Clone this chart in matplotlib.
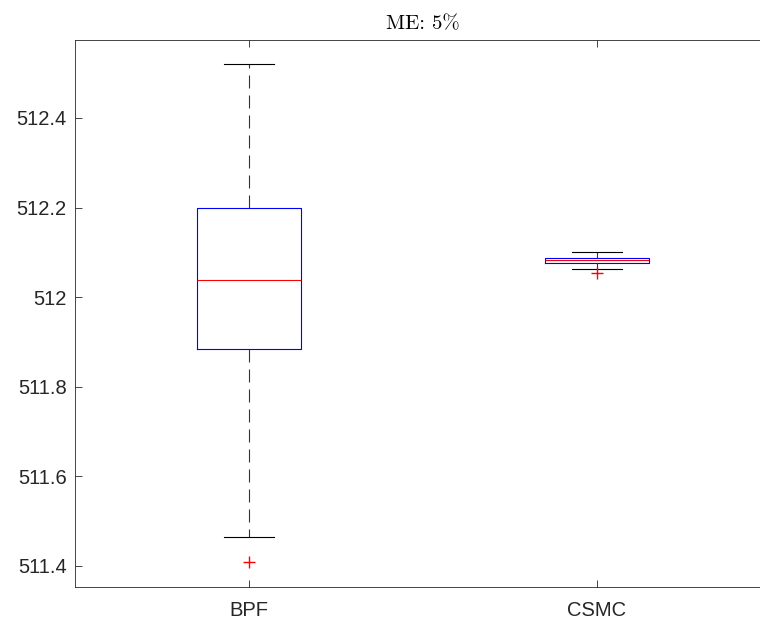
import matplotlib
matplotlib.use("Agg")
import matplotlib.pyplot as plt
from matplotlib.ticker import FuncFormatter

plt.rcParams["font.family"] = ["Liberation Sans", "DejaVu Sans"]

labels = ["BPF", "CSMC"]
whislo = [511.465, 512.062]
q1 = [511.884, 512.076]
med = [512.038, 512.082]
q3 = [512.200, 512.088]
whishi = [512.521, 512.101]
fliers = [[511.409], [512.053]]

stats = []
for i in range(len(labels)):
    stats.append({
        "label": labels[i],
        "whislo": whislo[i],
        "q1": q1[i],
        "med": med[i],
        "q3": q3[i],
        "whishi": whishi[i],
        "fliers": fliers[i],
    })

fig = plt.figure(figsize=(7.6, 6.24), dpi=100)
ax = fig.add_axes([75 / 760, 37 / 624, 696 / 760, 547 / 624])

ax.bxp(
    stats,
    positions=[1, 2],
    widths=0.3,
    boxprops=dict(color="blue", linewidth=0.8),
    medianprops=dict(color="red", linewidth=0.8),
    whiskerprops=dict(color="0.2", linestyle=(0, (11.7, 6.3)), linewidth=0.8),
    capprops=dict(color="black", linewidth=0.8),
    capwidths=0.145,
    flierprops=dict(marker="+", markeredgecolor="red", markersize=9, linestyle="none"),
)

ax.set_xlim(0.5, 2.5)
ax.set_ylim(511.353, 512.574)
ax.set_yticks([511.4, 511.6, 511.8, 512.0, 512.2, 512.4])
ax.yaxis.set_major_formatter(FuncFormatter(lambda v, p: f"{v:.1f}".rstrip("0").rstrip(".")))
ax.set_xticks([1, 2])
ax.set_xticklabels(labels)

ax.tick_params(direction="in", top=True, right=True, labelsize=14.5, colors="0.15", length=5, width=0.6)
ax.tick_params(axis="y", pad=6)
ax.tick_params(axis="x", pad=10)
for s in ax.spines.values():
    s.set_color("0.15")
    s.set_linewidth(0.6)

ax.set_title("ME: 5%", fontfamily="cmr10", fontsize=15, color="black", pad=8)

fig.savefig("out.png", dpi=100)
